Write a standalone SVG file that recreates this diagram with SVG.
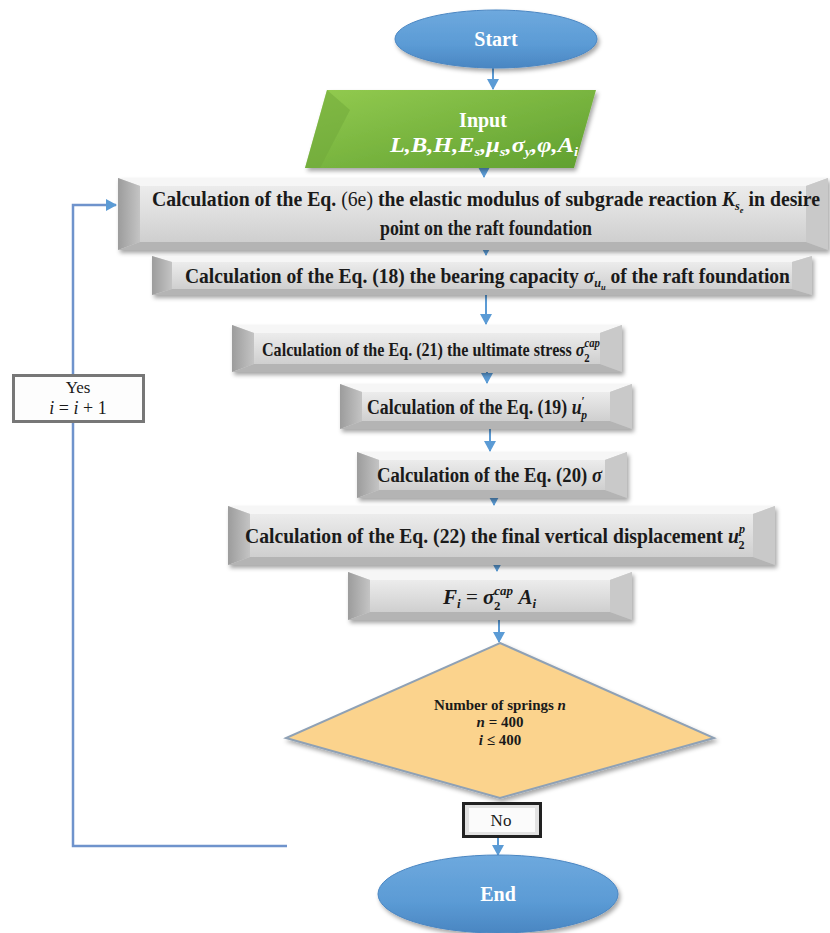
<svg xmlns="http://www.w3.org/2000/svg" width="830" height="933" viewBox="0 0 830 933">
<defs>
<style>
.t{font-family:"Liberation Serif","Times New Roman",serif;font-weight:bold;fill:#1a1a1a}
.w{font-family:"Liberation Serif","Times New Roman",serif;font-weight:bold;fill:#ffffff}
.i{font-style:italic}
.n{font-weight:normal}
.con{stroke:#5b9bd5;stroke-width:2;fill:none}
.loop{stroke:#6f93cc;stroke-width:2.5;fill:none}
.top{fill:#f6f6f6}
.lb{fill:url(#gL)}
.rb{fill:#c9c9c9}
.bb{fill:#b4b4b4}
.face{fill:url(#gF)}
</style>
<linearGradient id="gF" x1="0" y1="0" x2="0" y2="1"><stop offset="0" stop-color="#ececec"/><stop offset="1" stop-color="#cfcfcf"/></linearGradient>
<linearGradient id="gL" x1="0" y1="0" x2="1" y2="0"><stop offset="0" stop-color="#9c9c9c"/><stop offset="1" stop-color="#c4c4c4"/></linearGradient>
<linearGradient id="gE" x1="0" y1="0" x2="0" y2="1"><stop offset="0" stop-color="#6ea9de"/><stop offset="0.6" stop-color="#5b9bd5"/><stop offset="1" stop-color="#4a86c2"/></linearGradient>
<linearGradient id="gG" x1="0" y1="0" x2="1" y2="1"><stop offset="0" stop-color="#93cb50"/><stop offset="1" stop-color="#5f9f2f"/></linearGradient>
<filter id="sh" x="-10%" y="-20%" width="120%" height="150%"><feDropShadow dx="2" dy="3" stdDeviation="2" flood-color="#000" flood-opacity="0.35"/></filter>
<marker id="ar" markerWidth="12" markerHeight="12" refX="10" refY="6" orient="auto" markerUnits="userSpaceOnUse"><path d="M0,0 L11,6 L0,12 Z" fill="#5b9bd5"/></marker>
</defs>

<g id="connectors">
<line class="con" x1="493" y1="68" x2="493" y2="89" marker-end="url(#ar)"/>
<line class="con" x1="484" y1="156" x2="484" y2="177" marker-end="url(#ar)"/>
<line class="con" x1="486" y1="224" x2="486" y2="255" marker-end="url(#ar)"/>
<line class="con" x1="486" y1="272" x2="486" y2="324" marker-end="url(#ar)"/>
<line class="con" x1="487" y1="340" x2="487" y2="383" marker-end="url(#ar)"/>
<line class="con" x1="490" y1="414" x2="490" y2="451" marker-end="url(#ar)"/>
<line class="con" x1="494" y1="478" x2="494" y2="505" marker-end="url(#ar)"/>
<line class="con" x1="497" y1="538" x2="497" y2="571" marker-end="url(#ar)"/>
<line class="con" x1="499" y1="603" x2="499" y2="642" marker-end="url(#ar)"/>
<line class="con" x1="498" y1="838" x2="498" y2="855" marker-end="url(#ar)"/>
<polyline class="loop" points="287,846 73,846 73,423"/>
<polyline class="loop" points="73,374 73,205 116,205" marker-end="url(#ar)"/>
</g>

<g id="start">
<ellipse cx="496" cy="39" rx="101" ry="29" fill="url(#gE)" stroke="#4a86c2" stroke-width="1" filter="url(#sh)"/>
<text class="w" x="496" y="46" font-size="20" text-anchor="middle">Start</text>
</g>

<g id="input">
<polygon points="327,90 596,90 574,168 305,168" fill="url(#gG)" filter="url(#sh)"/>
<polygon points="327,90 350,110 320,168 305,168" fill="#6fa83a" opacity="0.5"/>
<text class="w" x="483" y="127" font-size="20" text-anchor="middle">Input</text>
<text class="w i" x="390" y="152" font-size="20" textLength="188" lengthAdjust="spacingAndGlyphs">L,B,H,E<tspan font-size="12" dy="4">s</tspan><tspan dy="-4">,μ</tspan><tspan font-size="12" dy="4">s</tspan><tspan dy="-4">,σ</tspan><tspan font-size="12" dy="4">y</tspan><tspan dy="-4">,φ,A</tspan><tspan font-size="12" dy="4">i</tspan></text>
</g>

<g id="box1" filter="url(#sh)">
<rect x="118" y="178" width="710" height="72" fill="#d4d4d4"/>
<polygon class="top" points="118,178 828,178 806,186 140,186"/>
<polygon class="lb" points="118,178 140,186 140,242 118,250"/>
<polygon class="rb" points="828,178 828,250 806,242 806,186"/>
<polygon class="bb" points="118,250 140,242 806,242 828,250"/>
<rect class="face" x="140" y="186" width="666" height="56"/>
</g>
<g id="box1-text">
<text class="t" x="152" y="206" font-size="21" textLength="668" lengthAdjust="spacingAndGlyphs">Calculation of the Eq. <tspan class="n">(6e)</tspan> the elastic modulus of subgrade reaction <tspan class="i">K</tspan><tspan class="i" font-size="13" dy="4">s</tspan><tspan class="i" font-size="9" dy="3">e</tspan><tspan dy="-7"> in desire</tspan></text>
<text class="t" x="380" y="235" font-size="21" textLength="212" lengthAdjust="spacingAndGlyphs">point on the raft foundation</text>
</g>

<g id="box2" filter="url(#sh)">
<rect x="152" y="256" width="660" height="39" fill="#d4d4d4"/>
<polygon class="top" points="152,256 812,256 792,262 172,262"/>
<polygon class="lb" points="152,256 172,262 172,289 152,295"/>
<polygon class="rb" points="812,256 812,295 792,289 792,262"/>
<polygon class="bb" points="152,295 172,289 792,289 812,295"/>
<rect class="face" x="172" y="262" width="620" height="27"/>
</g>
<g id="box2-text">
<text class="t" x="185" y="283" font-size="21" textLength="605" lengthAdjust="spacingAndGlyphs">Calculation of the Eq. (18) the bearing capacity <tspan class="i">σ</tspan><tspan class="i" font-size="13" dy="4">u</tspan><tspan class="i" font-size="9" dy="3">u</tspan><tspan dy="-7"> of the raft foundation</tspan></text>
</g>

<g id="box3" filter="url(#sh)">
<rect x="232" y="325" width="390" height="47" fill="#d4d4d4"/>
<polygon class="top" points="232,325 622,325 600,333 254,333"/>
<polygon class="lb" points="232,325 254,333 254,364 232,372"/>
<polygon class="rb" points="622,325 622,372 600,364 600,333"/>
<polygon class="bb" points="232,372 254,364 600,364 622,372"/>
<rect class="face" x="254" y="333" width="346" height="31"/>
</g>
<g id="box3-text">
<text class="t" x="262" y="356" font-size="19.5" textLength="338" lengthAdjust="spacingAndGlyphs">Calculation of the Eq. (21) the ultimate stress <tspan class="i">σ</tspan><tspan class="i" font-size="13" dy="-9">cap</tspan><tspan font-size="13" dx="-19" dy="15">2</tspan></text>
</g>

<g id="box4" filter="url(#sh)">
<rect x="340" y="384" width="292" height="45" fill="#d4d4d4"/>
<polygon class="top" points="340,384 632,384 610,392 362,392"/>
<polygon class="lb" points="340,384 362,392 362,421 340,429"/>
<polygon class="rb" points="632,384 632,429 610,421 610,392"/>
<polygon class="bb" points="340,429 362,421 610,421 632,429"/>
<rect class="face" x="362" y="392" width="248" height="29"/>
</g>
<g id="box4-text">
<text class="t" x="367" y="414" font-size="20" textLength="220" lengthAdjust="spacingAndGlyphs">Calculation of the Eq. (19) <tspan class="i">u</tspan><tspan font-size="13" dy="-9">′</tspan><tspan class="i" font-size="13" dx="-4" dy="14">p</tspan></text>
</g>

<g id="box5" filter="url(#sh)">
<rect x="357" y="452" width="270" height="46" fill="#d4d4d4"/>
<polygon class="top" points="357,452 627,452 605,460 379,460"/>
<polygon class="lb" points="357,452 379,460 379,490 357,498"/>
<polygon class="rb" points="627,452 627,498 605,490 605,460"/>
<polygon class="bb" points="357,498 379,490 605,490 627,498"/>
<rect class="face" x="379" y="460" width="226" height="30"/>
</g>
<g id="box5-text">
<text class="t" x="377" y="482" font-size="20.5" textLength="225" lengthAdjust="spacingAndGlyphs">Calculation of the Eq. (20) <tspan class="i">σ</tspan></text>
</g>

<g id="box6" filter="url(#sh)">
<rect x="228" y="506" width="547" height="59" fill="#d4d4d4"/>
<polygon class="top" points="228,506 775,506 753,514 250,514"/>
<polygon class="lb" points="228,506 250,514 250,557 228,565"/>
<polygon class="rb" points="775,506 775,565 753,557 753,514"/>
<polygon class="bb" points="228,565 250,557 753,557 775,565"/>
<rect class="face" x="250" y="514" width="503" height="43"/>
</g>
<g id="box6-text">
<text class="t" x="245" y="543" font-size="21" textLength="500" lengthAdjust="spacingAndGlyphs">Calculation of the Eq. (22) the final vertical displacement <tspan class="i">u</tspan><tspan class="i" font-size="13" dy="-10">p</tspan><tspan font-size="13" dx="-7" dy="16">2</tspan></text>
</g>

<g id="box7" filter="url(#sh)">
<rect x="348" y="572" width="284" height="48" fill="#d4d4d4"/>
<polygon class="top" points="348,572 632,572 610,580 370,580"/>
<polygon class="lb" points="348,572 370,580 370,612 348,620"/>
<polygon class="rb" points="632,572 632,620 610,612 610,580"/>
<polygon class="bb" points="348,620 370,612 610,612 632,620"/>
<rect class="face" x="370" y="580" width="240" height="32"/>
</g>
<g id="box7-text">
<text class="t i" x="443" y="604" font-size="21">F<tspan font-size="13" dy="4">i</tspan><tspan class="n" dy="-4" font-style="normal"> = </tspan>σ<tspan font-size="13" dy="-9">cap</tspan><tspan font-style="normal" font-size="13" dx="-19" dy="15">2</tspan><tspan dx="18" dy="-6">A</tspan><tspan font-size="13" dy="4">i</tspan></text>
</g>

<g id="decision">
<polygon points="500,643 714,738 500,798 286,738" fill="#fbd38d" stroke="#8fa1b5" stroke-width="2" filter="url(#sh)"/>
<text class="t" x="500" y="710" font-size="15" text-anchor="middle">Number of springs <tspan class="i">n</tspan></text>
<text class="t" x="500" y="727" font-size="15" text-anchor="middle"><tspan class="i">n</tspan> = 400</text>
<text class="t" x="500" y="745" font-size="15" text-anchor="middle"><tspan class="i">i</tspan> ≤ 400</text>
</g>

<g id="yes">
<rect x="12" y="374" width="133" height="49" fill="#777"/>
<rect x="15" y="377" width="127" height="43" fill="#fdfdfd"/>
<text class="t n" x="78" y="393" font-size="17" text-anchor="middle">Yes</text>
<text class="t n" x="78" y="414" font-size="18" text-anchor="middle"><tspan class="i">i</tspan> = <tspan class="i">i</tspan> + 1</text>
</g>

<g id="no">
<rect x="462" y="802" width="80" height="36" fill="#222"/>
<rect x="465" y="805" width="74" height="30" fill="#e2e2e2"/>
<rect x="469" y="808" width="66" height="24" fill="#fbfbfb"/>
<text class="t n" x="501" y="826" font-size="17" text-anchor="middle">No</text>
</g>

<g id="end">
<ellipse cx="498" cy="894" rx="120" ry="39" fill="url(#gE)" stroke="#4a86c2" stroke-width="1" filter="url(#sh)"/>
<text class="w" x="498" y="901" font-size="20" text-anchor="middle">End</text>
</g>
</svg>
